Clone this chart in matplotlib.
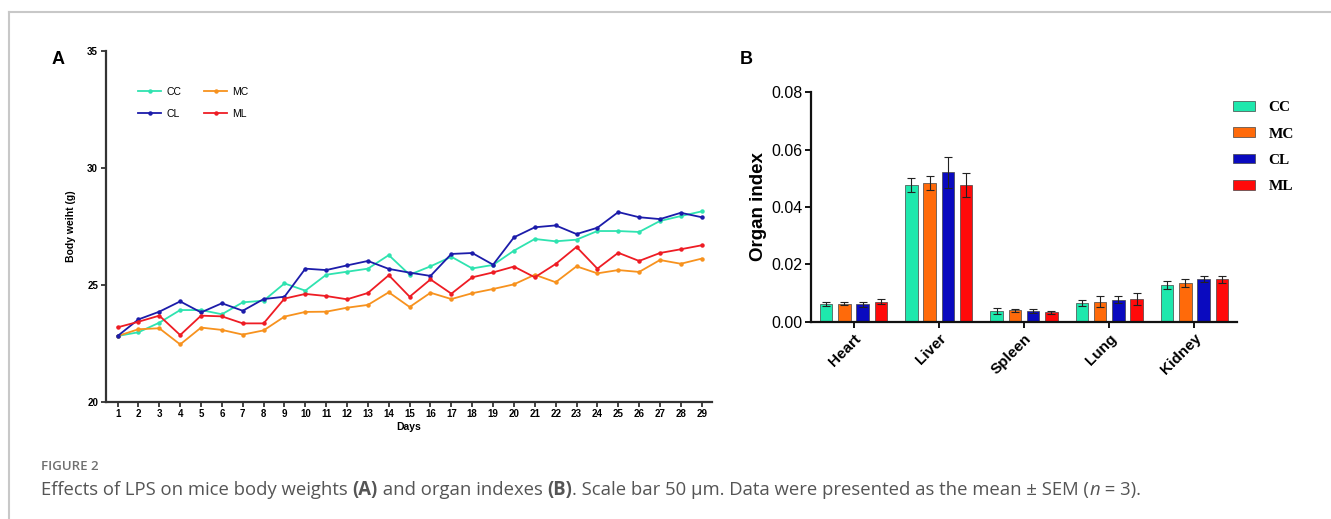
import matplotlib
matplotlib.use("Agg")
import matplotlib.pyplot as plt
from matplotlib.lines import Line2D
from matplotlib.patches import Patch
import numpy as np

# ---- Panel A: body weight over time ----
days = list(range(1, 30))
cc_weight = [22.81, 22.97, 23.38, 23.92, 23.92, 23.74, 24.25, 24.32, 25.06, 24.75,
             25.43, 25.56, 25.69, 26.27, 25.43, 25.79, 26.20, 25.70, 25.85, 26.46,
             26.96, 26.86, 26.93, 27.30, 27.30, 27.26, 27.73, 27.94, 28.14]
cl_weight = [22.81, 23.52, 23.85, 24.29, 23.82, 24.21, 23.89, 24.39, 24.49, 25.69,
             25.63, 25.83, 26.02, 25.68, 25.52, 25.38, 26.32, 26.36, 25.86, 27.03,
             27.46, 27.54, 27.17, 27.44, 28.11, 27.89, 27.81, 28.08, 27.89]
mc_weight = [22.81, 23.10, 23.14, 22.45, 23.17, 23.07, 22.87, 23.05, 23.64, 23.84,
             23.85, 24.02, 24.14, 24.68, 24.05, 24.66, 24.39, 24.64, 24.82, 25.02,
             25.43, 25.11, 25.79, 25.49, 25.63, 25.55, 26.06, 25.90, 26.12]
ml_weight = [23.18, 23.42, 23.68, 22.85, 23.68, 23.65, 23.35, 23.35, 24.41, 24.61,
             24.52, 24.38, 24.65, 25.41, 24.49, 25.23, 24.62, 25.32, 25.53, 25.78,
             25.32, 25.89, 26.62, 25.69, 26.37, 26.02, 26.36, 26.52, 26.69]
weight_ticks = [20, 25, 30, 35]

# ---- Panel B: organ indexes (mean, SEM) ----
organs = ["Heart", "Liver", "Spleen", "Lung", "Kidney"]
groups = ["CC", "MC", "CL", "ML"]
cc_index = [0.0061, 0.0477, 0.0038, 0.0066, 0.0127]
mc_index = [0.0063, 0.0484, 0.0040, 0.0069, 0.0135]
cl_index = [0.0061, 0.0522, 0.0037, 0.0076, 0.0149]
ml_index = [0.0069, 0.0477, 0.0033, 0.0079, 0.0148]
cc_sem = [0.0007, 0.0023, 0.0011, 0.0010, 0.0014]
mc_sem = [0.0006, 0.0025, 0.0005, 0.0019, 0.0013]
cl_sem = [0.0009, 0.0054, 0.0006, 0.0012, 0.0009]
ml_sem = [0.0009, 0.0042, 0.0005, 0.0021, 0.0012]
index_ticks = [0.00, 0.02, 0.04, 0.06, 0.08]

line_colors = {"CC": "#2fe3b0", "CL": "#1c1caa", "MC": "#f7921e", "ML": "#ee1c24"}
bar_colors = {"CC": "#1ee8ad", "MC": "#ff6a0a", "CL": "#0a0abf", "ML": "#ff0a0a"}

W, H = 1331, 519
fig = plt.figure(figsize=(W / 100, H / 100), dpi=100)
plt.rcParams["font.family"] = ["Liberation Sans", "DejaVu Sans"]


def fx(px):
    return px / W


def fy(py):
    return 1 - py / H


# page frame lines
fig.add_artist(Line2D([fx(9), 1], [fy(12), fy(12)], color="#c8c8c8", lw=1.5))
fig.add_artist(Line2D([fx(9), fx(9)], [fy(12), 0], color="#c8c8c8", lw=1.5))

# ---- Panel A ----
axA = fig.add_axes([fx(105.7), fy(401.7), fx(711.7 - 105.7), (401.7 - 51) / H])
series = [("CC", cc_weight), ("MC", mc_weight), ("CL", cl_weight), ("ML", ml_weight)]
for name, vals in series:
    axA.plot(days, vals, color=line_colors[name], lw=1.3, marker="o", ms=2.2,
             mec=line_colors[name], label=name)
axA.set_xlim(0.43, 29.48)
axA.set_ylim(20, 35)
axA.set_yticks(weight_ticks)
axA.set_xticks(days)
for s in ["top", "right"]:
    axA.spines[s].set_visible(False)
for s in ["left", "bottom"]:
    axA.spines[s].set_linewidth(1.6)
    axA.spines[s].set_color("#333333")
axA.tick_params(axis="both", direction="out", length=3.5, width=1.3, color="#333333",
                labelsize=7, pad=2)
for lab in axA.get_xticklabels() + axA.get_yticklabels():
    lab.set_fontweight("bold")
axA.set_xlabel("Days", fontsize=7.5, fontweight="bold", labelpad=2)
axA.set_ylabel("Body weiht (g)", fontsize=7.5, fontweight="bold", labelpad=8)
handles = [Line2D([], [], color=line_colors[n], lw=1.3, marker="o", ms=2.2) for n in ["CC", "CL", "MC", "ML"]]
axA.legend(handles, ["CC", "CL", "MC", "ML"], ncol=2, frameon=False, fontsize=7.5,
           loc="upper left", bbox_to_anchor=(0.038, 0.925), handlelength=2.2,
           columnspacing=2.2, labelspacing=1.15, handletextpad=0.5)
fig.text(fx(58), fy(60), "A", fontsize=13, fontweight="bold", ha="center", va="center")

# ---- Panel B ----
b_left, b_right, b_top, b_bot = 811, 1237, 92.3, 321.7
axB = fig.add_axes([fx(b_left), fy(b_bot), fx(b_right - b_left), (b_bot - b_top) / H])
x = np.arange(len(organs))
step, width = 0.214, 0.146
bar_series = [("CC", cc_index, cc_sem), ("MC", mc_index, mc_sem),
              ("CL", cl_index, cl_sem), ("ML", ml_index, ml_sem)]
for i, (name, vals, err) in enumerate(bar_series):
    axB.bar(x + (i - 1.5) * step, vals, width, color=bar_colors[name],
            edgecolor="#444444", linewidth=0.5, yerr=err,
            error_kw=dict(ecolor="#222222", elinewidth=0.8, capsize=2.8, capthick=0.8),
            label=name)
axB.set_xlim(-0.5, 4.5)
axB.set_ylim(0, 0.08)
axB.set_yticks(index_ticks)
axB.set_yticklabels([f"{v:.2f}" for v in index_ticks])
axB.set_xticks(x)
axB.set_xticklabels(organs, rotation=45, ha="right", rotation_mode="anchor",
                    fontsize=11, fontweight="bold")
for s in ["top", "right"]:
    axB.spines[s].set_visible(False)
for s in ["left", "bottom"]:
    axB.spines[s].set_linewidth(1.6)
    axB.spines[s].set_color("#111111")
axB.tick_params(axis="y", direction="out", length=4, width=1.3, labelsize=11.5, pad=2)
axB.tick_params(axis="x", direction="out", length=4, width=1.3, pad=3)
axB.set_ylabel("Organ index", fontsize=13.5, fontweight="bold", labelpad=3)
bh = [Patch(facecolor=bar_colors[n], edgecolor="#444444", linewidth=0.5) for n in groups]
axB.legend(bh, groups, frameon=False, loc="upper left",
           bbox_to_anchor=(0.99, (b_bot - 101) / (b_bot - b_top)),
           borderaxespad=0, borderpad=0,
           prop=dict(family="Liberation Serif", weight="bold", size=11),
           handlelength=1.45, handleheight=0.6, labelspacing=0.86, handletextpad=0.9)
fig.text(fx(746), fy(60), "B", fontsize=13, fontweight="bold", ha="center", va="center")

# ---- caption ----
fig.text(fx(41), fy(467), "FIGURE 2", fontsize=9.5, color="#707070", fontweight="semibold",
         family=["Open Sans", "DejaVu Sans"], va="center")

renderer = fig.canvas.get_renderer()
pieces = [
    ("Effects of LPS on mice body weights ", {}),
    ("(A)", {"fontweight": "bold"}),
    (" and organ indexes ", {}),
    ("(B)", {"fontweight": "bold"}),
    (". Scale bar 50 \u03bcm. Data were presented as the mean \u00b1 SEM (", {}),
    ("n", {"style": "italic"}),
    (" = 3).", {}),
]
cx = fx(41)
for txt, kw in pieces:
    t = fig.text(cx, fy(490), txt, fontsize=13.35, color="#555555",
                 family=["Open Sans", "DejaVu Sans"], va="center", **kw)
    bb = t.get_window_extent(renderer)
    cx += bb.width / fig.bbox.width

fig.savefig("out.png", dpi=100)
